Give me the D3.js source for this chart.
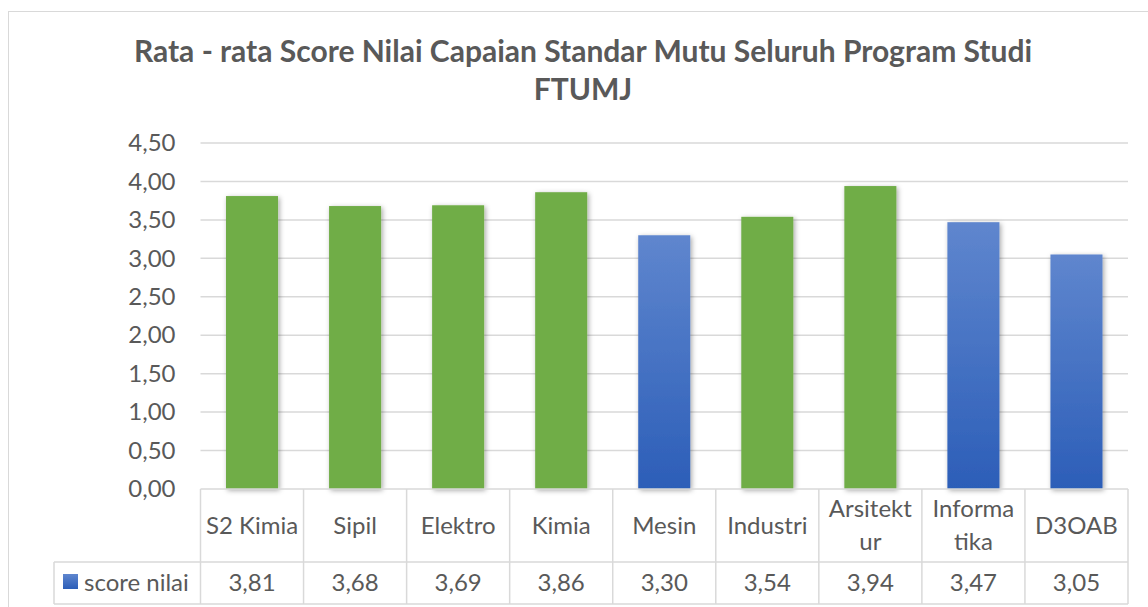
<!DOCTYPE html>
<html>
<head>
<meta charset="utf-8">
<script src="https://cdn.jsdelivr.net/npm/d3@7"></script>
<style>
  body { margin: 0; background: #fff; }
  svg { display: block; font-family: Lato, "Open Sans", sans-serif; }
</style>
</head>
<body>
<svg width="1148" height="607"></svg>
<script>
// data
const categories = ["S2 Kimia", "Sipil", "Elektro", "Kimia", "Mesin", "Industri", "Arsitektur", "Informatika", "D3OAB"];
const labelLines = [["S2 Kimia"], ["Sipil"], ["Elektro"], ["Kimia"], ["Mesin"], ["Industri"], ["Arsitekt", "ur"], ["Informa", "tika"], ["D3OAB"]];
const scores = [3.81, 3.68, 3.69, 3.86, 3.30, 3.54, 3.94, 3.47, 3.05];
const barKind = ["green", "green", "green", "green", "blue", "green", "green", "blue", "blue"];
const yTicks = [0, 0.5, 1, 1.5, 2, 2.5, 3, 3.5, 4, 4.5];
const seriesName = "score nilai";
const titleLines = ["Rata - rata Score Nilai Capaian Standar Mutu Seluruh Program Studi", "FTUMJ"];

const svg = d3.select("svg");
const textColor = "#595959";
const lineColor = "#d9d9d9";
const fontSize = 24;

const plot = { left: 200.5, right: 1128, top: 143, bottom: 489 };
const tableLeft = 54;
const catRowBottom = 562;
const valRowBottom = 604;

const locale = d3.formatLocale({ decimal: ",", thousands: ".", grouping: [3], currency: ["", ""] });
const fmt = locale.format(".2f");

const x = d3.scaleBand().domain(categories).range([plot.left, plot.right]).paddingInner(0).paddingOuter(0);
const y = d3.scaleLinear().domain([0, 4.5]).range([plot.bottom, plot.top]);
const barW = x.bandwidth() * 0.505;

const defs = svg.append("defs");
const grad = defs.append("linearGradient")
    .attr("id", "blueGrad")
    .attr("x1", 0).attr("y1", 0).attr("x2", 0).attr("y2", 1);
grad.append("stop").attr("offset", "0%").attr("stop-color", "#5f86ce");
grad.append("stop").attr("offset", "100%").attr("stop-color", "#2c5eb8");

const shadow = defs.append("filter")
    .attr("id", "shadow")
    .attr("x", "-30%").attr("y", "-10%").attr("width", "160%").attr("height", "120%");
shadow.append("feDropShadow")
    .attr("dx", 1.5).attr("dy", 1.5).attr("stdDeviation", 2.5)
    .attr("flood-color", "#000").attr("flood-opacity", 0.35);

// chart frame
svg.append("rect")
    .attr("x", 8.5).attr("y", 11.5)
    .attr("width", 1160).attr("height", 620)
    .attr("fill", "none").attr("stroke", lineColor);

// title
svg.append("g")
    .selectAll("text")
    .data(titleLines)
    .enter().append("text")
    .attr("x", 583)
    .attr("y", (d, i) => 62 + i * 38)
    .attr("text-anchor", "middle")
    .attr("font-size", 30)
    .attr("font-weight", "bold")
    .attr("fill", textColor)
    .text(d => d);

// gridlines
svg.append("g")
    .selectAll("line")
    .data(yTicks.filter(t => t > 0))
    .enter().append("line")
    .attr("x1", plot.left).attr("x2", plot.right)
    .attr("y1", d => y(d)).attr("y2", d => y(d))
    .attr("stroke", lineColor).attr("stroke-width", 1.5);

// y axis
const yAxis = svg.append("g")
    .attr("transform", `translate(${plot.left - 25},0)`)
    .call(d3.axisLeft(y).tickValues(yTicks).tickFormat(fmt).tickSize(0).tickPadding(0));
yAxis.select(".domain").remove();
yAxis.selectAll("text")
    .attr("font-family", "Lato, 'Open Sans', sans-serif")
    .attr("font-size", fontSize)
    .attr("fill", textColor);

// bars
svg.append("g")
    .selectAll("rect")
    .data(categories)
    .enter().append("rect")
    .attr("x", (d) => x(d) + (x.bandwidth() - barW) / 2)
    .attr("y", (d, i) => y(scores[i]))
    .attr("width", barW)
    .attr("height", (d, i) => y(0) - y(scores[i]))
    .attr("fill", (d, i) => barKind[i] === "green" ? "#70ad47" : "url(#blueGrad)")
    .attr("filter", "url(#shadow)");

// data table
const table = svg.append("g").attr("stroke", lineColor).attr("stroke-width", 1.5);
table.append("line").attr("x1", plot.left).attr("x2", plot.right).attr("y1", plot.bottom).attr("y2", plot.bottom);
table.append("line").attr("x1", tableLeft).attr("x2", plot.right).attr("y1", catRowBottom).attr("y2", catRowBottom);
table.append("line").attr("x1", tableLeft).attr("x2", plot.right).attr("y1", valRowBottom).attr("y2", valRowBottom);
table.append("line").attr("x1", tableLeft).attr("x2", tableLeft).attr("y1", catRowBottom).attr("y2", valRowBottom);
table.selectAll("line.col")
    .data(categories.map(c => x(c)).concat([plot.right]))
    .enter().append("line")
    .attr("class", "col")
    .attr("x1", d => d).attr("x2", d => d)
    .attr("y1", plot.bottom).attr("y2", valRowBottom);

// category labels
const catG = svg.append("g")
    .selectAll("text")
    .data(categories)
    .enter().append("text")
    .attr("text-anchor", "middle")
    .attr("font-size", fontSize)
    .attr("fill", textColor);
catG.each(function (d, i) {
    const lines = labelLines[i];
    const cy = (plot.bottom + catRowBottom) / 2;
    const start = cy + 8 - (lines.length - 1) * 16.5;
    d3.select(this).selectAll("tspan")
        .data(lines)
        .enter().append("tspan")
        .attr("x", x(d) + x.bandwidth() / 2)
        .attr("y", (l, j) => start + j * 33)
        .text(l => l);
});

// values row
svg.append("g")
    .selectAll("text")
    .data(categories)
    .enter().append("text")
    .attr("x", d => x(d) + x.bandwidth() / 2)
    .attr("y", (catRowBottom + valRowBottom) / 2 + 8)
    .attr("text-anchor", "middle")
    .attr("font-size", fontSize)
    .attr("fill", textColor)
    .text((d, i) => fmt(scores[i]));

// legend key in table
svg.append("rect")
    .attr("x", 63).attr("y", 574)
    .attr("width", 15).attr("height", 15)
    .attr("fill", "url(#blueGrad)");
svg.append("text")
    .attr("x", 84)
    .attr("y", (catRowBottom + valRowBottom) / 2 + 8)
    .attr("font-size", fontSize)
    .attr("fill", textColor)
    .text(seriesName);
</script>
</body>
</html>
